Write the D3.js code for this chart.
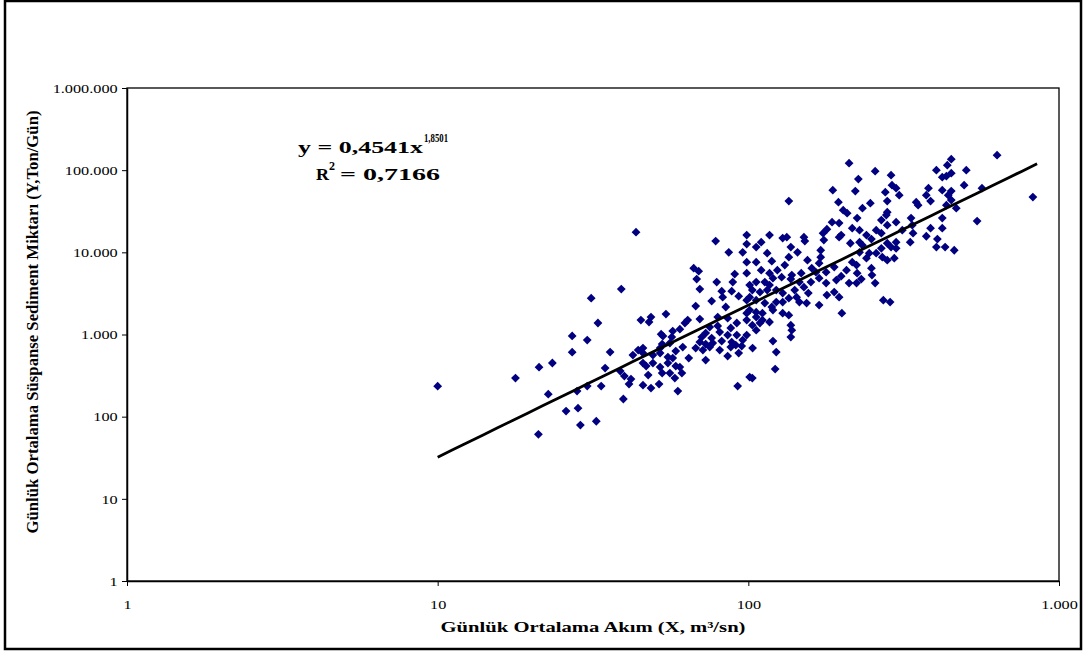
<!DOCTYPE html>
<html>
<head>
<meta charset="utf-8">
<script src="https://cdn.jsdelivr.net/npm/d3@7"></script>
<style>
  body { margin: 0; background: #fff; }
  text { font-family: "Liberation Serif", "Times New Roman", serif; }
</style>
</head>
<body>
<div id="chart"></div>
<script>

// daily mean discharge (m3/sn) and suspended sediment (ton/gün)
const flow = [
  10, 17.8, 21.2, 23.4, 27.1, 30.3, 27.1, 31.2, 32.8, 22.7, 28.1, 30.3, 33.6, 25.9, 28.3, 28.8, 32.4, 21.1, 35.9, 34.6, 38.7, 39, 43.5, 39.9,
  78.5, 98.8, 98.8, 86.5, 95.9, 98.8, 66.7, 69.2, 68.2, 79.1, 98.8, 90.4, 89.1, 69.8, 82.1, 88.4, 93.1, 82.7, 76.2, 67.7, 84.6, 98.8,
  54.3, 48.6, 45.1, 47.9, 63.8, 69.8, 62.5, 79.7, 85.8, 91.8, 98.8, 98.8, 60.2, 57.1, 52.4, 53.1, 75.1, 79.7, 70.8, 72.9, 76.2, 80.9,
  87.8, 85.8, 91.8, 95.9, 98.8, 56.7, 69.8, 72.9, 76.8, 82.1, 88.4, 91.1, 95.2, 67.7, 71.4, 75.1, 80.9, 87.8, 61.5, 58.4, 55.9, 52.8,
  52, 45.8, 44.2, 45.8, 42.5, 49.3, 52, 55.1, 57.1, 64.3, 72.9, 85.8, 93.1, 103.2, 45.8, 49.3, 52, 55.1, 58.4, 60.2, 46.9, 47.6,
  52.8, 55.9, 61.1, 58, 41.9, 41.3, 45.8, 48.6, 51.6, 59.3, 39.6, 92.4, 101,
  211, 256, 288, 226, 290, 299, 187, 221, 276, 135, 195, 247, 280, 233, 202, 208, 280, 278, 224, 268, 186, 196, 299, 280, 179, 216,
  174, 228, 258, 117, 199, 129, 133, 151, 196, 240, 268, 110, 152, 175, 213, 228, 233, 249, 280, 299, 106, 137, 171, 268, 288, 245,
  228, 258, 115, 144, 155, 135, 131, 119, 171, 169, 216, 223, 240, 270, 280, 295, 299, 106, 110, 117, 124, 128, 138, 148, 160, 165,
  178, 189, 207, 224, 249, 250, 256, 106, 113, 117, 120, 137, 146, 151, 159, 169, 178, 192, 199, 211, 223, 231, 101, 103, 109, 115,
  123, 129, 141, 143, 156, 179, 189, 196, 169, 101, 106, 113, 119, 123, 129, 135, 146, 154, 101, 106, 111, 120, 129, 135, 106, 111,
  117, 103, 109, 106, 137, 138, 137, 200, 272, 286, 120, 123, 122, 103,
  632, 450, 437, 403, 434, 450, 421, 503, 306, 380, 421, 450, 495, 565, 374, 440, 450, 386, 347, 352, 434, 467, 824, 334, 421, 545,
  337, 386, 421, 313, 339, 374, 406, 332, 403, 430, 460
];

const sediment = [
  235, 295, 400, 450, 960, 855, 610, 2770, 1380, 188, 205, 236, 236, 117, 127, 79, 88, 61, 611, 390, 359, 3570, 17600, 312,
  13700, 16200, 12600, 10000, 10000, 7600, 6420, 5900, 4720, 4340, 5580, 5430, 4340, 3570, 3370, 3370, 2930, 2850, 2550, 2220, 2160, 2620,
  1770, 1630, 1500, 1420, 1500, 1540, 1380, 1630, 1580, 1380, 1500, 1820, 1160, 1100, 1010, 957, 1230, 1270, 930, 1040, 904, 1070,
  1200, 984, 984, 855, 984, 930, 809, 764, 786, 832, 809, 743, 723, 683, 646, 703, 646, 703, 703, 628, 786, 764,
  683, 683, 646, 594, 562, 562, 594, 531, 516, 516, 488, 546, 594, 683, 449, 449, 401, 449, 413, 401, 413, 321,
  339, 339, 339, 295, 287, 249, 242, 223, 249, 205, 164, 236, 303,
  121600, 97200, 86900, 77800, 65700, 60400, 57100, 55600, 54000, 42000, 40800, 39700, 42000, 34500, 32600, 30000, 30800, 28400, 26100, 24700, 23300, 22700, 23300, 21400, 19100, 19700,
  17100, 18600, 18600, 16200, 16200, 14900, 15300, 15300, 15300, 16200, 17100, 13300, 13700, 14100, 12900, 13300, 12200, 14500, 12900, 13300, 11600, 11600, 10600, 11200, 11600, 9780,
  10000, 9780, 9780, 10000, 8030, 8740, 6990, 7810, 8740, 7390, 7600, 6990, 8500, 8740, 8030, 8500, 11200, 7600, 6070, 5580, 6070, 4990, 5280, 5580, 6420, 5740,
  5740, 6610, 6070, 5580, 6420, 5280, 4220, 4340, 4340, 3990, 4850, 4720, 4340, 3770, 4340, 4850, 4220, 4590, 5130, 4220, 4220, 4720, 3990, 3470, 3280, 3470,
  3470, 3190, 3470, 2850, 3190, 3020, 3280, 2850, 2280, 2850, 2620, 2410, 2160, 2480, 2480, 2770, 2480, 2410, 1980, 1870, 1820, 1980, 1820, 1720, 1630, 1500,
  1420, 1300, 1380, 1130, 1300, 1130, 930, 1820, 2620, 2480, 832, 611, 379, 295,
  152200, 136100, 115000, 100000, 84500, 92000, 82200, 100000, 49600, 60400, 57100, 55600, 65700, 60400, 49600, 49600, 43200, 42000, 40800, 37500, 37500, 34500, 47000, 26100, 26100, 24000,
  21400, 19700, 19700, 18600, 17100, 15700, 14500, 13300, 11600, 11600, 10600
];

const xTicks = [1, 10, 100, 1000];
const yTicks = [1, 10, 100, 1000, 10000, 100000, 1000000];

// power trend line y = a * x^b, drawn from x = 10 to 850
const fitA = 0.4541;
const fitB = 1.8501;
const fitRange = [10, 850];

const xTitle = "Günlük Ortalama Akım (X, m³/sn)";
const yTitle = "Günlük Ortalama Süspanse Sediment Miktarı (Y,Ton/Gün)";

const width = 1085;
const height = 653;
const margin = {top: 88, right: 26, bottom: 72, left: 127};
const graphWidth = width - margin.left - margin.right;
const graphHeight = height - margin.top - margin.bottom;
const stretch = 1.25; // text in the source is drawn wider than it is tall

const trLocale = d3.formatLocale({decimal: ",", thousands: ".", grouping: [3], currency: ["", ""]});
const fmt = trLocale.format(",");

const svg = d3.select('#chart')
  .append('svg')
  .attr('width', width)
  .attr('height', height);

// outer frame
svg.append('rect')
  .attr('x', 5).attr('y', 1)
  .attr('width', 1076).attr('height', 648)
  .attr('fill', 'none')
  .attr('stroke', '#000')
  .attr('stroke-width', 2.5);

const graph = svg.append('g')
  .attr('transform', 'translate(' + margin.left + ',' + margin.top + ')');

const x = d3.scaleLog().domain([1, 1000]).range([0, graphWidth]);
const y = d3.scaleLog().domain([1, 1000000]).range([graphHeight, 0]);

// plot box
graph.append('rect')
  .attr('width', graphWidth)
  .attr('height', graphHeight)
  .attr('fill', '#fff')
  .attr('stroke', '#000')
  .attr('stroke-width', 1.3);

const xAxis = d3.axisBottom(x).tickValues(xTicks).tickFormat(fmt)
  .tickSize(5).tickSizeOuter(0).tickPadding(14);
const yAxis = d3.axisLeft(y).tickValues(yTicks).tickFormat(fmt)
  .tickSize(5).tickSizeOuter(0).tickPadding(3);

const gx = graph.append('g')
  .attr('class', 'x axis')
  .attr('transform', 'translate(0,' + graphHeight + ')')
  .call(xAxis);

const gy = graph.append('g')
  .attr('class', 'y axis')
  .call(yAxis);

[gx, gy].forEach(g => {
  g.select('.domain').attr('stroke', '#000').attr('stroke-width', 1.5);
  g.selectAll('.tick line').attr('stroke', '#000').attr('stroke-width', 1);
  g.selectAll('.tick text')
    .attr('font-family', '"Liberation Serif", serif')
    .attr('font-size', 13)
    .attr('fill', '#000');
});
gx.selectAll('.tick text').attr('transform', 'scale(' + stretch + ',1)');
gy.selectAll('.tick text').attr('x', -7.5).attr('transform', 'scale(' + stretch + ',1)');

// scatter
const points = flow.map((f, i) => ({flow: f, sed: sediment[i]}));
graph.selectAll('path.pt')
  .data(points)
  .enter()
  .append('path')
    .attr('class', 'pt')
    .attr('d', 'M0,-4.4L4.4,0L0,4.4L-4.4,0Z')
    .attr('transform', d => 'translate(' + x(d.flow) + ',' + y(d.sed) + ')')
    .attr('fill', '#000080');

// trend line
const fitData = d3.range(0, 41).map(i => {
  const lx = Math.log10(fitRange[0]) + i / 40 * (Math.log10(fitRange[1]) - Math.log10(fitRange[0]));
  const xv = Math.pow(10, lx);
  return {flow: xv, sed: fitA * Math.pow(xv, fitB)};
});
graph.append('path')
  .datum(fitData)
  .attr('fill', 'none')
  .attr('stroke', '#000')
  .attr('stroke-width', 2.8)
  .attr('d', d3.line().x(d => x(d.flow)).y(d => y(d.sed)));

// equation label
const eq = svg.append('g').attr('font-weight', 'bold').attr('fill', '#000');
eq.append('text').attr('x', 298).attr('y', 153).attr('font-size', 17)
  .attr('textLength', 125).attr('lengthAdjust', 'spacingAndGlyphs')
  .text('y = 0,4541x');
eq.append('text').attr('x', 424).attr('y', 142).attr('font-size', 12)
  .attr('textLength', 24).attr('lengthAdjust', 'spacingAndGlyphs')
  .text('1,8501');
eq.append('text').attr('x', 316).attr('y', 180).attr('font-size', 17)
  .attr('textLength', 13).attr('lengthAdjust', 'spacingAndGlyphs')
  .text('R');
eq.append('text').attr('x', 329).attr('y', 170).attr('font-size', 12)
  .attr('textLength', 6).attr('lengthAdjust', 'spacingAndGlyphs')
  .text('2');
eq.append('text').attr('x', 340).attr('y', 180).attr('font-size', 17)
  .attr('textLength', 100).attr('lengthAdjust', 'spacingAndGlyphs')
  .text('= 0,7166');

// axis titles
svg.append('text')
  .attr('x', 593).attr('y', 632)
  .attr('text-anchor', 'middle')
  .attr('font-size', 14).attr('font-weight', 'bold')
  .attr('textLength', 305).attr('lengthAdjust', 'spacingAndGlyphs')
  .text(xTitle);

svg.append('text')
  .attr('transform', 'translate(38,322) scale(' + stretch + ',1) rotate(-90)')
  .attr('text-anchor', 'middle')
  .attr('font-size', 13).attr('font-weight', 'bold')
  .attr('textLength', 423).attr('lengthAdjust', 'spacingAndGlyphs')
  .text(yTitle);

</script>
</body>
</html>
